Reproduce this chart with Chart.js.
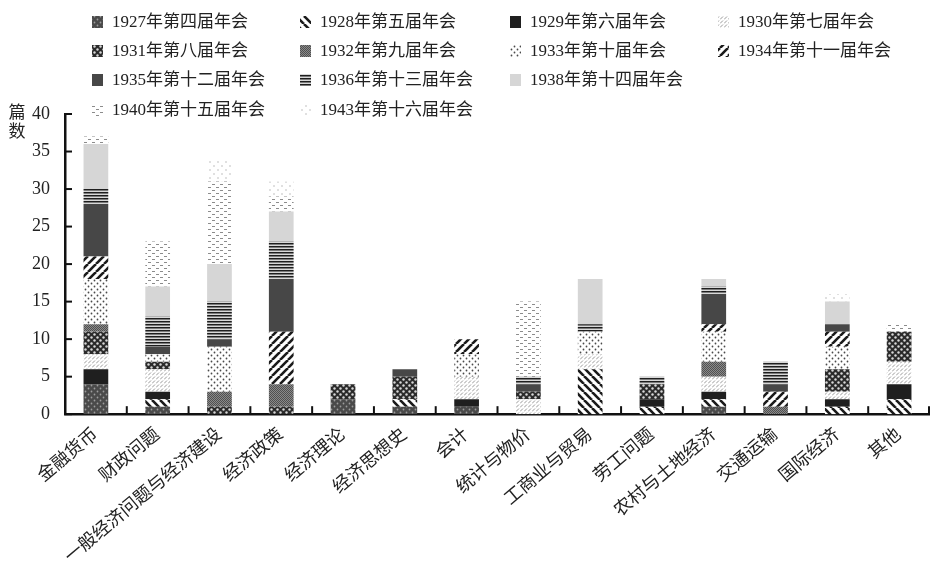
<!DOCTYPE html>
<html><head><meta charset="utf-8">
<script src="https://cdn.jsdelivr.net/npm/chart.js@4"></script>
<style>html,body{margin:0;padding:0;background:#fff}#wrap{position:relative;width:930px;height:571px}</style>
</head><body><div id="wrap"><canvas id="c"></canvas></div>
<script>
const categories = ['金融货币','财政问题','一般经济问题与经济建设','经济政策','经济理论','经济思想史','会计','统计与物价','工商业与贸易','劳工问题','农村与土地经济','交通运输','国际经济','其他'];
const seriesNames = ['1927年第四届年会','1928年第五届年会','1929年第六届年会','1930年第七届年会','1931年第八届年会','1932年第九届年会','1933年第十届年会','1934年第十一届年会','1935年第十二届年会','1936年第十三届年会','1938年第十四届年会','1940年第十五届年会','1943年第十六届年会'];
const s1927 = [4,1,0,0,2,1,1,0,0,0,1,0,0,0];
const s1928 = [0,1,0,0,0,1,0,0,6,1,1,0,1,2];
const s1929 = [2,1,0,0,0,0,1,0,0,1,1,0,1,2];
const s1930 = [2,3,0,0,0,0,3,2,2,0,2,0,1,3];
const s1931 = [3,1,1,1,2,3,0,1,0,2,0,0,3,4];
const s1932 = [1,0,2,3,0,0,0,0,0,0,2,1,0,0];
const s1933 = [6,1,6,0,0,0,3,0,3,0,4,0,3,0];
const s1934 = [3,0,0,7,0,0,2,0,0,0,1,2,2,0];
const s1935 = [7,1,1,7,0,1,0,1,0,0,4,1,1,0];
const s1936 = [2,4,5,5,0,0,0,1,1,1,1,3,0,0];
const s1938 = [6,4,5,4,0,0,0,0,6,0,1,0,3,0];
const s1940 = [1,6,11,2,0,0,0,10,0,0,0,0,0,1];
const s1943 = [0,0,3,2,0,0,0,0,0,0,0,0,1,0];
const yTicks = [0,5,10,15,20,25,30,35,40];
const yTitle = ['篇','数'];
const seriesData = [s1927,s1928,s1929,s1930,s1931,s1932,s1933,s1934,s1935,s1936,s1938,s1940,s1943];

function tile(w,h,draw){const c=document.createElement('canvas');c.width=w;c.height=h;const g=c.getContext('2d');draw(g,w,h);return g.createPattern(c,'repeat');}
function dots(bg,fg,r,pts){return (g,w,h)=>{g.fillStyle=bg;g.fillRect(0,0,w,h);g.fillStyle=fg;pts.forEach(p=>{g.beginPath();g.arc(p[0],p[1],r,0,Math.PI*2);g.fill();});};}
function diag(dir,lw){return (g,s)=>{g.fillStyle='#fff';g.fillRect(0,0,s,s);g.strokeStyle='#1a1a1a';g.lineWidth=lw;for(const k of [-s,0,s]){g.beginPath();if(dir>0){g.moveTo(k,0);g.lineTo(k+s,s);}else{g.moveTo(k,s);g.lineTo(k+s,0);}g.stroke();}};}
const patterns = [
  tile(6,6,dots('#4a4a4a','#9c9c9c',0.9,[[1.5,1.5],[4.5,4.5]])),
  tile(8,8,diag(1,2.6)),
  '#1f1f1f',
  tile(4,4,(g,w,h)=>{g.fillStyle='#fff';g.fillRect(0,0,w,h);g.strokeStyle='#9a9a9a';g.lineWidth=1;g.beginPath();g.moveTo(0,3.5);g.lineTo(3,0.5);g.stroke();}),
  tile(6,6,dots('#2b2b2b','#d8d8d8',1.2,[[1.5,1.5],[4.5,4.5]])),
  tile(2,2,(g)=>{g.fillStyle='#8a8a8a';g.fillRect(0,0,2,2);g.fillStyle='#505050';g.fillRect(0,0,1,1);g.fillRect(1,1,1,1);}),
  tile(6,6,dots('#fff','#4a4a4a',0.9,[[1.5,1.5],[4.5,4.5]])),
  tile(8,8,diag(-1,2.6)),
  '#474747',
  tile(4,3,(g)=>{g.fillStyle='#d8d8d8';g.fillRect(0,0,4,3);g.fillStyle='#1e1e1e';g.fillRect(0,0,4,1.5);}),
  '#d6d6d6',
  tile(8,6,(g,w,h)=>{g.fillStyle='#fff';g.fillRect(0,0,w,h);g.fillStyle='#8c8c8c';g.fillRect(0,1,3,1);g.fillRect(4,4,3,1);}),
  tile(8,8,dots('#fff','#b8b8b8',0.8,[[2,2],[6,6]]))
];

const SERIF = '"Liberation Serif","Noto Sans CJK SC",serif';
const datasets = seriesNames.map((n,i)=>({label:n,data:seriesData[i],backgroundColor:patterns[i],borderWidth:0,barPercentage:0.4,categoryPercentage:1.0}));

const decor = {
  id:'decor',
  afterDraw(chart){
    const ctx=chart.ctx, xs=chart.scales.x, ys=chart.scales.y;
    ctx.save();
    ctx.strokeStyle='#111';ctx.lineWidth=2;
    yTicks.forEach(v=>{const p=ys.getPixelForValue(v);ctx.beginPath();ctx.moveTo(xs.left,p);ctx.lineTo(xs.left+7,p);ctx.stroke();});
    const n=categories.length;
    for(let i=1;i<=n;i++){let px;if(i<n){px=(xs.getPixelForValue(i-1)+xs.getPixelForValue(i))/2;}else{px=xs.right-1;}ctx.beginPath();ctx.moveTo(px,ys.bottom);ctx.lineTo(px,ys.bottom-8);ctx.stroke();}
    ctx.fillStyle='#222';ctx.font='17px '+SERIF;ctx.textAlign='center';ctx.textBaseline='middle';
    yTitle.forEach((t,i)=>ctx.fillText(t,17,114+i*19));
    const colX=[92,300,510,718], rowY=[22,51,80,110];
    ctx.textAlign='left';ctx.font='17px '+SERIF;
    const layout=[[0,1,2,3],[4,5,6,7],[8,9,10],[11,12]];
    layout.forEach((row,r)=>row.forEach((idx,c)=>{
      const x=colX[c], y=rowY[r];
      ctx.fillStyle=patterns[idx];ctx.fillRect(x,y-6,11,12);
      ctx.fillStyle='#222';ctx.fillText(seriesNames[idx],x+20,y+1);
    }));
    ctx.restore();
  }
};

new Chart(document.getElementById('c'),{
  type:'bar',
  data:{labels:categories,datasets},
  options:{
    responsive:true,maintainAspectRatio:false,animation:false,
    layout:{padding:{top:114,left:25,right:0,bottom:1}},
    plugins:{legend:{display:false},tooltip:{enabled:false}},
    scales:{
      x:{stacked:true,grid:{display:false},border:{display:true,color:'#111',width:2.5},
        ticks:{color:'#222',font:{family:SERIF,size:18},maxRotation:40,minRotation:40,autoSkip:false,padding:2}},
      y:{stacked:true,min:0,max:40,grid:{display:false},border:{display:true,color:'#111',width:2.5},
        afterBuildTicks:(s)=>{s.ticks=yTicks.map(v=>({value:v}));},
        ticks:{color:'#222',font:{family:SERIF,size:18},padding:7}}
    }
  },
  plugins:[decor]
});
</script></body></html>
